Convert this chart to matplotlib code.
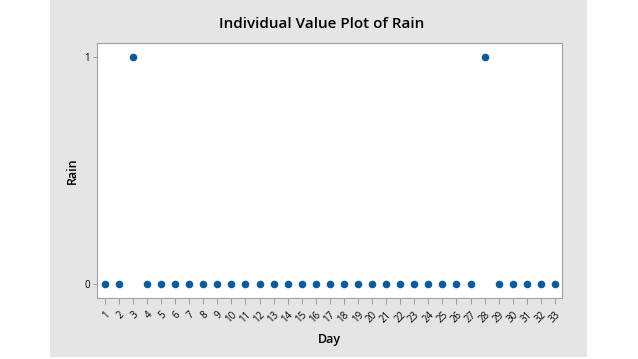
import matplotlib.pyplot as plt
from matplotlib.patches import Rectangle

# Data
days = list(range(1, 34))
rain = [0, 0, 1, 0, 0, 0, 0, 0, 0, 0, 0, 0, 0, 0, 0, 0, 0,
        0, 0, 0, 0, 0, 0, 0, 0, 0, 0, 1, 0, 0, 0, 0, 0]

plt.rcParams['font.family'] = ['Open Sans', 'DejaVu Sans']

W, H = 638, 359
fig = plt.figure(figsize=(W / 100, H / 100), dpi=100)
fig.patch.set_facecolor('white')

# gray panel behind the chart
fig.patches.append(Rectangle((50 / W, 2 / H), 537 / W, 357 / H,
                             transform=fig.transFigure, facecolor='#e5e5e5',
                             edgecolor='none', zorder=-5))

ax = fig.add_axes([97 / W, (H - 298) / H, 465 / W, 255 / H])
ax.set_zorder(2)
ax.set_facecolor('white')
ax.scatter(days, rain, s=30, color='#0a5aa0', zorder=3, linewidths=0)

ax.set_xlim(0.45, 33.5)
ax.set_ylim(-0.062, 1.062)
ax.set_xticks(days)
ax.set_xticklabels([str(d) for d in days], rotation=45, ha='right',
                   rotation_mode='anchor', fontsize=7)
ax.set_yticks([0, 1])
ax.set_yticklabels(['0', '1'], fontsize=7)
ax.tick_params(length=3, width=0.6, color='#909090', pad=2)
ax.tick_params(axis='x', length=4, pad=4)

for sp in ax.spines.values():
    sp.set_color('#a0a0a0')
    sp.set_linewidth(0.8)

ax.set_xlabel('Day', fontsize=9, fontweight='semibold', labelpad=6)
ax.set_ylabel('Rain', fontsize=9, fontweight='semibold', labelpad=4)
fig.text(322 / W, 1 - 24 / H, 'Individual Value Plot of Rain', fontsize=11,
         fontweight='semibold', ha='center', va='center')

fig.savefig('out.png', dpi=100)
